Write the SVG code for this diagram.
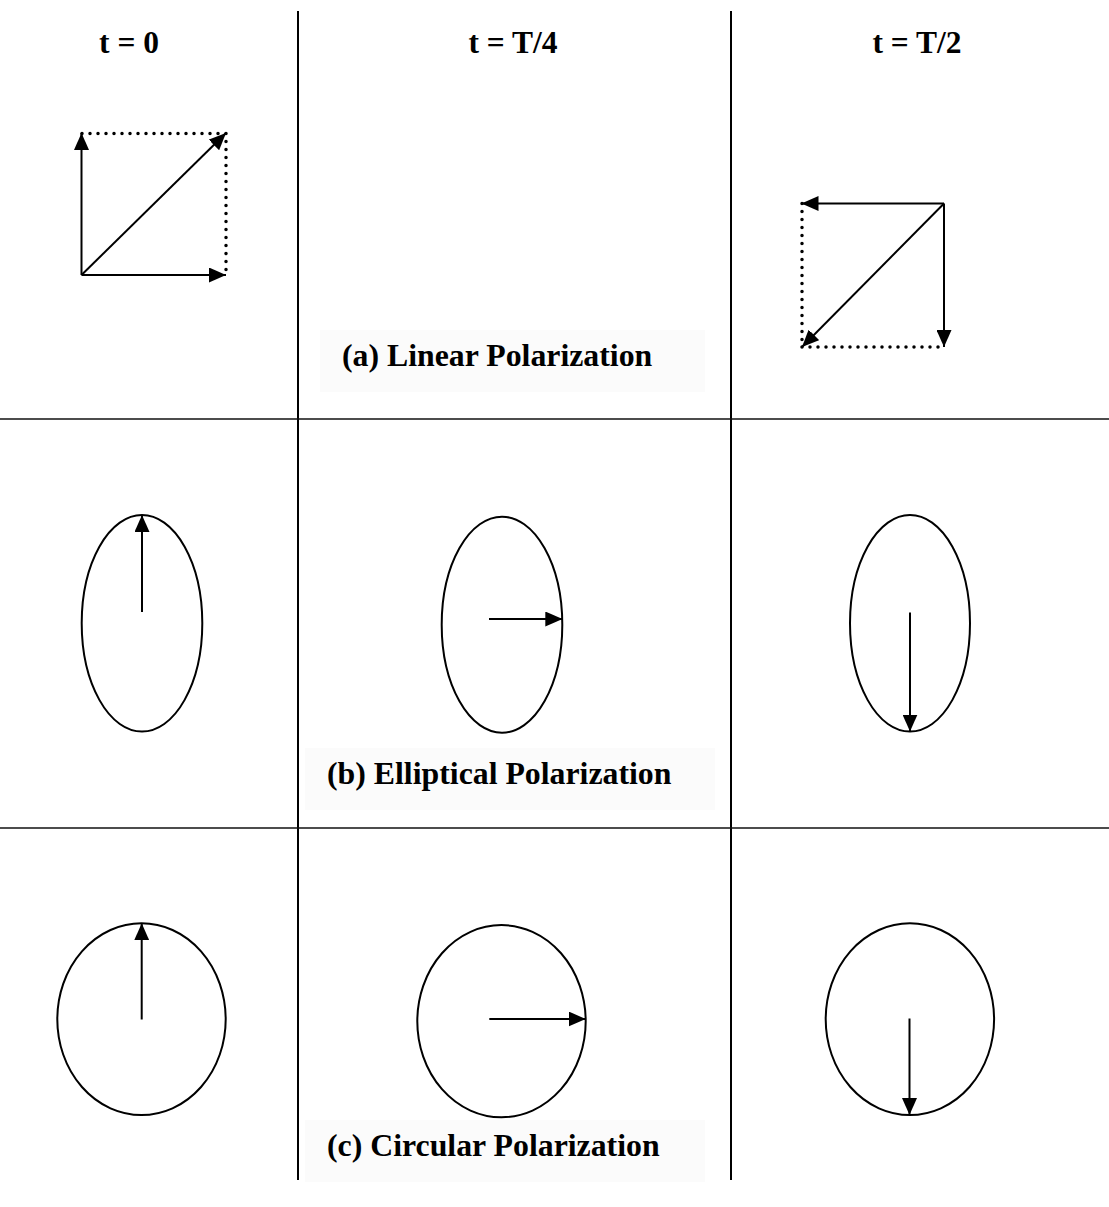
<svg xmlns="http://www.w3.org/2000/svg" width="1109" height="1207" viewBox="0 0 1109 1207">
<style>
.grid{stroke:#000;stroke-width:2;fill:none}
.gridh{stroke:#111;stroke-width:1.6;fill:none}
.arr{stroke:#000;stroke-width:2;fill:none;marker-end:url(#ah)}
.dot{stroke:#000;stroke-width:3.5;fill:none;stroke-dasharray:0 8;stroke-linecap:round}
.ell{stroke:#000;stroke-width:2;fill:none}
.hdr{font-family:"Liberation Serif","Times New Roman",serif;font-weight:bold;font-size:31.5px;fill:#000}
.lbl{font-family:"Liberation Serif","Times New Roman",serif;font-weight:bold;font-size:31.8px;fill:#000}
.lblbg{fill:#fbfbfb;stroke:none}
</style>
<defs>
<marker id="ah" markerUnits="userSpaceOnUse" markerWidth="17" markerHeight="15" refX="17" refY="7.5" orient="auto">
<path d="M0,0 L17,7.5 L0,15 z" fill="#000"/>
</marker>
</defs>
<rect width="1109" height="1207" fill="#fff"/>
<g id="grid">
<line class="grid" x1="298" y1="11" x2="298" y2="1180"/>
<line class="grid" x1="731" y1="11" x2="731" y2="1180"/>
<line class="gridh" x1="0" y1="419" x2="1109" y2="419"/>
<line class="gridh" x1="0" y1="828" x2="1109" y2="828"/>
</g>
<g id="headers">
<text class="hdr" x="129" y="53" text-anchor="middle">t = 0</text>
<text class="hdr" x="513" y="53" text-anchor="middle">t = T/4</text>
<text class="hdr" x="917" y="53" text-anchor="middle">t = T/2</text>
</g>
<g id="labels">
<rect class="lblbg" x="320" y="330" width="385" height="62"/>
<text class="lbl" x="342" y="366">(a) Linear Polarization</text>
<rect class="lblbg" x="305" y="748" width="410" height="62"/>
<text class="lbl" x="327" y="784">(b) Elliptical Polarization</text>
<rect class="lblbg" x="305" y="1120" width="400" height="62"/>
<text class="lbl" x="327" y="1156">(c) Circular Polarization</text>
</g>
<g id="linear-t0">
<line class="dot" x1="82" y1="133.5" x2="226" y2="133.5"/>
<line class="dot" x1="226" y1="133.5" x2="226" y2="275"/>
<line class="arr" x1="81.5" y1="275" x2="81.5" y2="133"/>
<line class="arr" x1="81.5" y1="275" x2="226" y2="275"/>
<line class="arr" x1="81.5" y1="275" x2="226" y2="133"/>
</g>
<g id="linear-t2">
<line class="dot" x1="802" y1="203.5" x2="802" y2="347"/>
<line class="dot" x1="802" y1="347" x2="944" y2="347"/>
<line class="arr" x1="944" y1="203.5" x2="801.5" y2="203.5"/>
<line class="arr" x1="944" y1="203.5" x2="944" y2="347"/>
<line class="arr" x1="944" y1="203.5" x2="802" y2="347"/>
</g>
<g id="elliptical-t0">
<ellipse class="ell" cx="142" cy="623.3" rx="60.3" ry="108.3"/>
<line class="arr" x1="142" y1="612" x2="142" y2="515"/>
</g>
<g id="elliptical-t4">
<ellipse class="ell" cx="502" cy="624.7" rx="60.3" ry="108"/>
<line class="arr" x1="489" y1="619" x2="562.3" y2="619"/>
</g>
<g id="elliptical-t2">
<ellipse class="ell" cx="910" cy="623.3" rx="60" ry="108.3"/>
<line class="arr" x1="910" y1="612.5" x2="910" y2="731.6"/>
</g>
<g id="circular-t0">
<ellipse class="ell" cx="141.5" cy="1019.2" rx="84.2" ry="95.9"/>
<line class="arr" x1="141.7" y1="1019.5" x2="141.7" y2="923.3"/>
</g>
<g id="circular-t4">
<ellipse class="ell" cx="501.5" cy="1021.2" rx="84.2" ry="96.1"/>
<line class="arr" x1="489.3" y1="1019" x2="585.7" y2="1019"/>
</g>
<g id="circular-t2">
<ellipse class="ell" cx="909.9" cy="1019.2" rx="84.2" ry="95.9"/>
<line class="arr" x1="909.5" y1="1018.5" x2="909.5" y2="1115"/>
</g>
</svg>
